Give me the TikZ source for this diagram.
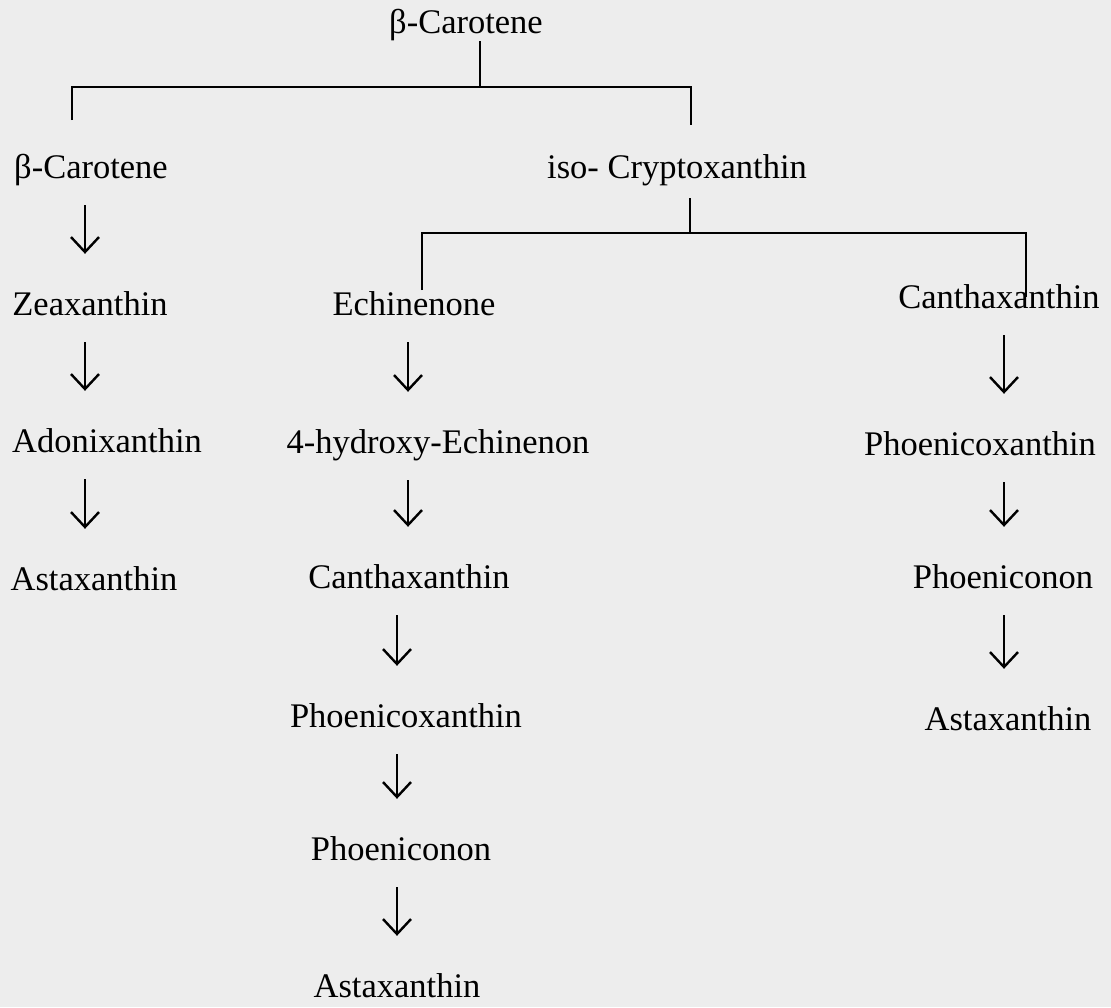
\documentclass[tikz,border=0pt]{standalone}
\usepackage{fontspec}
\setmainfont{Liberation Serif}
\usetikzlibrary{arrows.meta}

\tikzset{
  pigment/.style={anchor=base, inner sep=0pt, text height=24pt, text depth=8pt,
    font=\fontsize{34.5}{40}\selectfont},
  flow/.style={-{Straight Barb[length=15pt,width=28pt,line width=2.4pt]}, line width=1.8pt,
    shorten <=19pt, shorten >=37pt},
  branch/.style={line width=1.3pt}
}

\begin{document}
\begin{tikzpicture}[x=1pt, y=-1pt]
	% paper of the scan
	\fill[black!7] (0,0) rectangle (1111,1007);
	\useasboundingbox (0,0) rectangle (1111,1007);

	% Top of the tree
	\node[pigment] (topcar) at (466,33) {β-Carotene};
	\node[pigment] (car) at (91,178) {β-Carotene};
	\node[pigment] (iso) at (677,178) {iso- Cryptoxanthin};

	% first fork
	\coordinate (fork1) at (480,87);
	\coordinate (dropL) at (72,120);
	\coordinate (dropR) at (691,125);
	\draw[branch] (fork1 |- topcar.south) -- (fork1);
	\draw[branch] (dropL) |- (fork1) -| (dropR);

	% second fork
	\coordinate (fork2) at (690,233);
	\coordinate (dropE) at (422,290);
	\coordinate (dropC) at (1026,297);
	\draw[branch, shorten <=12pt] (fork2 |- iso.south) -- (fork2);
	\draw[branch] (dropE) |- (fork2) -| (dropC);

	% Left column
	\node[pigment] (zea) at (90,315) {Zeaxanthin};
	\node[pigment] (adon) at (107,452) {Adonixanthin};
	\node[pigment] (astaL) at (94,590) {Astaxanthin};

	% Middle column
	\node[pigment] (echi) at (414,315) {Echinenone};
	\node[pigment] (hydr) at (438,453) {4-hydroxy-Echinenon};
	\node[pigment] (canM) at (409,588) {Canthaxanthin};
	\node[pigment] (phxM) at (406,727) {Phoenicoxanthin};
	\node[pigment] (phonM) at (401,860) {Phoeniconon};
	\node[pigment] (astaM) at (397,997) {Astaxanthin};

	% Right column
	\node[pigment] (canR) at (999,308) {Canthaxanthin};
	\node[pigment] (phxR) at (980,455) {Phoenicoxanthin};
	\node[pigment] (phonR) at (1003,588) {Phoeniconon};
	\node[pigment] (astaR) at (1008,730) {Astaxanthin};

	% arrows, one x per column
	\coordinate (colL) at (85,0);
	\coordinate (colM) at (408,0);
	\coordinate (colMlow) at (397,0);
	\coordinate (colR) at (1004,0);
	\foreach \a/\b in {car/zea, zea/adon, adon/astaL}
		\draw[flow] (\a.south -| colL) -- (\b.north -| colL);
	\foreach \a/\b in {echi/hydr, hydr/canM}
		\draw[flow] (\a.south -| colM) -- (\b.north -| colM);
	\foreach \a/\b in {canM/phxM, phxM/phonM, phonM/astaM}
		\draw[flow] (\a.south -| colMlow) -- (\b.north -| colMlow);
	\foreach \a/\b in {canR/phxR, phxR/phonR, phonR/astaR}
		\draw[flow] (\a.south -| colR) -- (\b.north -| colR);
\end{tikzpicture}
\end{document}
